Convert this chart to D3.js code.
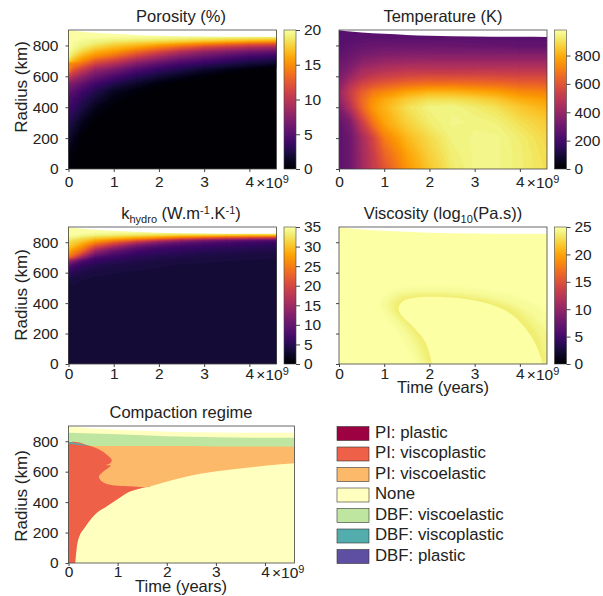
<!DOCTYPE html>
<html>
<head>
<meta charset="utf-8">
<script src="https://cdn.jsdelivr.net/npm/d3@7"></script>
<style>
  html, body { margin: 0; background: #fff; }
  svg text { font-family: "Liberation Sans", sans-serif; fill: #222; }
  .axis path { display: none; }
  .axis line { stroke: #444; }
  .axis text { font-size: 15.5px; fill: #222; }
</style>
</head>
<body>
<svg id="fig" width="603" height="596"></svg>
<script>
// time in 1e9 years, radius in km
var surfaceT = [0, 0.25, 0.5, 1, 1.5, 2, 3, 4, 4.6];
var surfaceR = [898, 890, 884, 875, 868, 863, 858, 856, 855];

var porosityT = [0, 0.12, 0.3, 0.6, 1, 1.5, 2, 2.5, 3, 3.5, 4, 4.6];
var porosityR = [0, 100, 200, 300, 400, 450, 500, 550, 600, 640, 660, 680, 700, 730, 760, 790, 810, 830, 850, 870, 900];
var porosityV = [
  0.4, 0, 0, 0, 0, 0, 0, 0, 0, 0, 0, 0,
  1, 0.3, 0, 0, 0, 0, 0, 0, 0, 0, 0, 0,
  1.8, 1, 0.2, 0, 0, 0, 0, 0, 0, 0, 0, 0,
  2.8, 2, 1, 0.1, 0, 0, 0, 0, 0, 0, 0, 0,
  4, 3.4, 2.4, 1, 0.2, 0, 0, 0, 0, 0, 0, 0,
  4.6, 4, 3, 1.8, 0.6, 0, 0, 0, 0, 0, 0, 0,
  5.6, 5, 4, 2.6, 1.2, 0.4, 0, 0, 0, 0, 0, 0,
  7.2, 6.6, 5.5, 4, 2.6, 1.4, 0.5, 0, 0, 0, 0, 0,
  11, 9.5, 8, 6, 4.6, 3, 1.9, 1.1, 0.4, 0, 0, 0,
  14, 12, 10.5, 8, 6.5, 4.6, 3.3, 2.4, 1.5, 0.9, 0.3, 0,
  15, 13.5, 12, 9.5, 8, 5.7, 4.3, 3.2, 2.4, 1.7, 1.1, 0.4,
  14.5, 14.5, 13.5, 11, 9.5, 7, 5.3, 4.1, 3.3, 2.5, 1.9, 1.4,
  18, 16.5, 15, 12.5, 11, 8.5, 6.6, 5.2, 4.3, 3.4, 2.7, 2.2,
  19.5, 18, 16.5, 15, 13.5, 11, 9, 7.2, 6, 5, 4.2, 3.6,
  19.8, 19, 18, 16.5, 15.5, 13.5, 11.5, 9.5, 8, 7, 6.2, 5.6,
  20, 19.6, 19, 18, 17, 16, 14.5, 13, 11.5, 10.5, 9.5, 8.8,
  20, 19.7, 19.4, 18.8, 18, 17.3, 16.5, 15.5, 14.5, 13.5, 12.5, 12,
  20, 19.8, 19.6, 19.3, 19, 18.7, 18.4, 18, 17.5, 17, 16.5, 16,
  20, 20, 19.9, 19.8, 19.7, 19.6, 19.5, 19.4, 19.2, 19, 18.8, 18.7,
  20, 20, 20, 20, 20, 20, 20, 20, 20, 20, 20, 20,
  20, 20, 20, 20, 20, 20, 20, 20, 20, 20, 20, 20
];

var temperatureT = [0, 0.25, 0.5, 0.75, 1, 1.5, 2, 2.5, 3, 3.5, 4, 4.6];
var temperatureR = [0, 100, 200, 300, 400, 450, 500, 550, 600, 650, 700, 750, 800, 850, 900];
var temperatureV = [
  260, 300, 420, 510, 600, 750, 850, 920, 950, 950, 930, 900,
  260, 300, 420, 520, 640, 780, 870, 930, 950, 950, 930, 895,
  260, 300, 430, 550, 700, 820, 890, 940, 950, 950, 925, 885,
  270, 340, 520, 680, 780, 870, 925, 950, 945, 935, 900, 860,
  340, 470, 640, 760, 810, 900, 940, 945, 925, 900, 850, 810,
  380, 510, 650, 740, 790, 860, 900, 900, 880, 850, 800, 770,
  395, 520, 620, 690, 720, 780, 810, 810, 790, 770, 730, 710,
  360, 470, 550, 590, 620, 660, 680, 680, 670, 660, 640, 630,
  330, 400, 470, 510, 530, 560, 570, 570, 570, 565, 560, 560,
  310, 350, 420, 440, 460, 480, 480, 480, 480, 480, 480, 480,
  285, 315, 360, 380, 395, 405, 410, 410, 410, 410, 410, 410,
  265, 285, 315, 325, 335, 340, 340, 340, 340, 340, 340, 340,
  250, 265, 280, 285, 290, 290, 290, 285, 280, 275, 272, 270,
  240, 250, 255, 258, 258, 255, 255, 255, 255, 255, 255, 255,
  235, 245, 250, 250, 250, 250, 250, 250, 250, 250, 250, 250
];

var hydroT = [0, 0.12, 0.3, 0.6, 1, 1.5, 2, 2.5, 3, 3.5, 4, 4.6];
var hydroR = [0, 500, 560, 600, 640, 660, 680, 700, 720, 740, 760, 780, 800, 815, 830, 850, 870, 900];
var hydroV = [
  3.2, 3.2, 3.2, 3.2, 3.2, 3.2, 3.2, 3.2, 3.2, 3.2, 3.2, 3.2,
  3.4, 3.3, 3.3, 3.2, 3.2, 3.2, 3.2, 3.2, 3.2, 3.2, 3.2, 3.2,
  4.2, 3.9, 3.6, 3.4, 3.3, 3.3, 3.2, 3.2, 3.2, 3.2, 3.2, 3.2,
  6, 5, 4.4, 3.8, 3.6, 3.4, 3.3, 3.3, 3.2, 3.2, 3.2, 3.2,
  9, 7, 5.6, 4.6, 4.2, 3.8, 3.6, 3.4, 3.3, 3.3, 3.2, 3.2,
  12, 9, 7, 5.4, 4.7, 4.1, 3.8, 3.6, 3.5, 3.4, 3.3, 3.3,
  15, 13, 9, 6.2, 5.3, 4.6, 4.2, 3.9, 3.7, 3.6, 3.5, 3.4,
  23, 20, 14, 8, 6.5, 5.2, 4.6, 4.3, 4, 3.9, 3.7, 3.6,
  26, 24, 19, 11, 8, 6.2, 5.3, 4.8, 4.4, 4.2, 4, 3.9,
  28, 26, 23, 14, 10, 7.4, 6.1, 5.5, 5, 4.7, 4.5, 4.3,
  30, 28, 25.5, 18, 13, 9, 7.2, 6.4, 5.8, 5.3, 5, 4.8,
  31, 30, 27.5, 22, 17.5, 12, 9.2, 7.8, 7, 6.3, 5.8, 5.5,
  32, 31, 29.5, 26, 22, 17, 13, 10.5, 9, 8, 7.2, 6.8,
  33, 32, 31, 28.5, 26, 22.5, 18.5, 15, 12.5, 11, 10, 9.5,
  34, 33.5, 32.5, 31, 30, 28, 26, 23.5, 21.5, 20, 19, 18,
  35, 35, 34.5, 34, 33.5, 33, 32.5, 32, 32, 31.5, 31, 31,
  35, 35, 35, 35, 35, 35, 35, 35, 35, 35, 35, 35,
  35, 35, 35, 35, 35, 35, 35, 35, 35, 35, 35, 35
];

// viscosity outlines, [time, radius], outermost level first
var viscosityLevels = [24.65, 24.2, 23.7];
var viscosityOuter = [[1.73, 0], [1.36, 188], [0.99, 340], [0.91, 404], [1.2, 480], [2.1, 505], [3.2, 485], [4.17, 410], [4.7, 290], [4.7, 0]];
var viscosityMid1 = [[1.85, 0], [1.6, 170], [1.32, 280], [1.12, 350], [1.08, 400], [1.3, 455], [2.1, 470], [3.2, 445], [4, 370], [4.5, 250], [4.7, 150], [4.7, 0]];
var viscosityMid2 = [[1.96, 0], [1.76, 160], [1.5, 260], [1.25, 340], [1.2, 385], [1.37, 435], [1.9, 455], [2.5, 452], [3.2, 425], [3.9, 350], [4.36, 210], [4.55, 50], [4.56, 0]];
var viscosityCore = [[2.06, 0], [1.91, 145], [1.65, 242], [1.36, 329], [1.32, 372], [1.43, 415], [1.73, 437], [2.47, 437], [3.2, 404], [3.8, 329], [4.24, 188], [4.47, 37], [4.48, 0]];

// compaction regime outlines
var regimeNames = ["PI: plastic", "PI: viscoplastic", "PI: viscoelastic", "None", "DBF: viscoelastic", "DBF: viscoplastic", "DBF: plastic"];
var regimeColors = ["#9e0142", "#ee6048", "#fdb96a", "#ffffbf", "#bfe6a0", "#53adad", "#5e4fa2"];
var noneTop = [[0.136, 0], [0.156, 69], [0.183, 134], [0.237, 189], [0.305, 221], [0.44, 282], [0.577, 330], [0.78, 373], [0.98, 416], [1.25, 470], [1.66, 503], [2.14, 547], [2.68, 586], [3.36, 616], [4.04, 640], [4.6, 655]];
var orangeTop = [[0, 785], [0.44, 768], [1, 768], [2, 768], [3, 766], [4.6, 764]];
var greenTop = [[0, 856], [1, 845], [2, 833], [3, 826], [4.6, 822]];
var redEdge = [[0, 785], [0.44, 768], [0.64, 742], [0.81, 703], [0.88, 677], [0.85, 655], [0.77, 644], [0.86, 640], [0.71, 601], [0.62, 568], [0.68, 536], [0.85, 514], [1.32, 503], [1.63, 499]];
var tealEdge = [[0, 796], [0.2, 785], [0.44, 768], [0.2, 775], [0, 785]];

var xTicks = [0, 1, 2, 3, 4];
var yTicks = [0, 200, 400, 600, 800];

var tMax = 4.6, rMax = 900;
var svg = d3.select("#fig");
var defs = svg.append("defs");
var inferno = d3.interpolateInferno;

defs.append("filter").attr("id", "soft").append("feGaussianBlur").attr("stdDeviation", 2);

function makePanel(box, o) {
  var x = d3.scaleLinear().domain([0, tMax]).range([box.x, box.x + box.w]);
  var y = d3.scaleLinear().domain([0, rMax]).range([box.y + box.h, box.y]);
  var id = "clip" + o.id;
  defs.append("clipPath").attr("id", id).append("rect")
    .attr("x", box.x).attr("y", box.y).attr("width", box.w).attr("height", box.h);
  var g = svg.append("g");
  var plot = g.append("g").attr("clip-path", "url(#" + id + ")");

  var t = g.append("text").attr("x", o.titleX).attr("y", box.y - 8)
    .attr("text-anchor", "middle").style("font-size", "16.5px");
  o.title(t);
  return { x: x, y: y, g: g, plot: plot, box: box };
}

function finishPanel(p, o) {
  var box = p.box;
  // white above the surface
  p.plot.append("path").attr("fill", "#fff")
    .attr("d", d3.area().x(function (d) { return p.x(d[0]); })
      .y0(box.y).y1(function (d) { return p.y(d[1]); })
      .curve(d3.curveMonotoneX)(d3.zip(surfaceT, surfaceR)));

  p.g.append("rect").attr("x", box.x).attr("y", box.y).attr("width", box.w).attr("height", box.h)
    .attr("fill", "none").attr("stroke", "#444").attr("stroke-width", 0.8);

  p.g.append("g").attr("class", "axis").attr("transform", "translate(0," + (box.y + box.h) + ")")
    .call(d3.axisBottom(p.x).tickValues(xTicks).tickSize(3).tickPadding(o.xPad).tickFormat(d3.format("d")));
  p.g.append("g").attr("class", "axis").attr("transform", "translate(" + box.x + ",0)")
    .call(d3.axisLeft(p.y).tickValues(yTicks).tickSize(3).tickPadding(7)
      .tickFormat(o.yLabels ? d3.format("d") : ""));

  // exponent beside the last tick
  var exp = p.g.append("text").attr("x", p.x(4) + 7).attr("y", box.y + box.h + 15 + o.xPad)
    .style("font-size", "15.5px").text("×10");
  exp.append("tspan").attr("dy", -5).style("font-size", "11px").text("9");

  if (o.yLabels) {
    p.g.append("text").attr("transform", "translate(" + (box.x - 42) + "," + o.yLabelY + ") rotate(-90)")
      .attr("text-anchor", "middle").style("font-size", "17px").text("Radius (km)");
  }
  if (o.xLabel) {
    p.g.append("text").attr("x", o.titleX).attr("y", box.y + box.h + 29)
      .attr("text-anchor", "middle").style("font-size", "16.5px").text("Time (years)");
  }
}

function colorbar(box, vMax, ticks, id) {
  var grad = defs.append("linearGradient").attr("id", id)
    .attr("x1", 0).attr("y1", 1).attr("x2", 0).attr("y2", 0);
  d3.range(0, 1.0001, 0.05).forEach(function (f) {
    grad.append("stop").attr("offset", f).attr("stop-color", inferno(f));
  });
  svg.append("rect").attr("x", box.x).attr("y", box.y).attr("width", box.w).attr("height", box.h)
    .attr("fill", "url(#" + id + ")").attr("stroke", "#444").attr("stroke-width", 0.6);
  var s = d3.scaleLinear().domain([0, vMax]).range([box.y + box.h, box.y]);
  svg.append("g").attr("class", "axis").attr("transform", "translate(" + (box.x + box.w) + ",0)")
    .call(d3.axisRight(s).tickValues(ticks).tickSize(4).tickPadding(4).tickFormat(d3.format("d")));
}

// smooth field: stacked contour bands of a value grid
function heat(p, ts, rs, vals, vMax) {
  var nx = ts.length, ny = rs.length;
  var ix = d3.scaleLinear().domain(ts.map(function (d, i) { return i + 0.5; })).range(ts).clamp(true);
  var iy = d3.scaleLinear().domain(rs.map(function (d, i) { return i + 0.5; })).range(rs).clamp(true);
  var path = d3.geoPath(d3.geoTransform({
    point: function (a, b) { this.stream.point(p.x(ix(a)), p.y(iy(b))); }
  }));
  var levels = d3.range(0, vMax, vMax / 90);
  var bands = d3.contours().size([nx, ny]).thresholds(levels)(vals);
  p.plot.selectAll(".band").data(bands).enter().append("path")
    .attr("class", "band")
    .attr("d", path)
    .attr("fill", function (d) { return inferno(Math.min(1, d.value / vMax + 0.5 / 90)); })
    .attr("stroke", function (d) { return inferno(Math.min(1, d.value / vMax + 0.5 / 90)); })
    .attr("stroke-width", 0.3);
}

var row1 = 30, row2 = 227, hh = 139, h2 = 137;
var col1 = 68.5, col2 = 339, ww = 208;

// Porosity
var p1 = makePanel({ x: col1, y: row1, w: ww, h: hh }, { id: 1, titleX: 181, title: function (t) { t.text("Porosity (%)"); } });
heat(p1, porosityT, porosityR, porosityV, 20);
finishPanel(p1, { yLabels: true, yLabelY: 87, xPad: 4 });
colorbar({ x: 284, y: row1, w: 12, h: hh }, 20, [0, 5, 10, 15, 20], "cb1");

// Temperature
var p2 = makePanel({ x: col2, y: row1, w: ww, h: hh }, { id: 2, titleX: 443, title: function (t) { t.text("Temperature (K)"); } });
heat(p2, temperatureT, temperatureR, temperatureV, 980);
finishPanel(p2, { yLabels: false, xPad: 4 });
colorbar({ x: 554.5, y: row1, w: 12, h: hh }, 980, [0, 200, 400, 600, 800], "cb2");

// k hydro
var p3 = makePanel({ x: col1, y: row2, w: ww, h: h2 }, { id: 3, titleX: 181, title: function (t) {
  t.text("k");
  t.append("tspan").attr("dy", 4).style("font-size", "11px").text("hydro");
  t.append("tspan").attr("dy", -4).text(" (W.m");
  t.append("tspan").attr("dy", -5).style("font-size", "11px").text("-1");
  t.append("tspan").attr("dy", 5).text(".K");
  t.append("tspan").attr("dy", -5).style("font-size", "11px").text("-1");
  t.append("tspan").attr("dy", 5).text(")");
} });
heat(p3, hydroT, hydroR, hydroV, 35);
finishPanel(p3, { yLabels: true, yLabelY: 295, xPad: 1 });
colorbar({ x: 284, y: row2, w: 12, h: h2 }, 35, [0, 5, 10, 15, 20, 25, 30, 35], "cb3");

// Viscosity
var p4 = makePanel({ x: col2, y: row2, w: ww, h: h2 }, { id: 4, titleX: 443, title: function (t) {
  t.text("Viscosity (log");
  t.append("tspan").attr("dy", 4).style("font-size", "11px").text("10");
  t.append("tspan").attr("dy", -4).text("(Pa.s))");
} });
var viscScale = d3.scaleSequential(inferno).domain([0, 25]);
p4.plot.append("rect").attr("x", col2).attr("y", row2).attr("width", ww).attr("height", h2).attr("fill", viscScale(25));
var outline = d3.line().x(function (d) { return p4.x(d[0]); }).y(function (d) { return p4.y(d[1]); }).curve(d3.curveCatmullRom);
var ring = p4.plot.append("g").attr("filter", "url(#soft)");
[viscosityOuter, viscosityMid1, viscosityMid2].forEach(function (pts, i) {
  ring.append("path").attr("d", outline(pts)).attr("fill", viscScale(viscosityLevels[i]));
});
p4.plot.append("path").attr("d", outline(viscosityCore)).attr("fill", viscScale(25));
finishPanel(p4, { yLabels: false, xLabel: true, titleX: 443, xPad: 1 });
colorbar({ x: 554.5, y: row2, w: 12, h: h2 }, 25, [0, 5, 10, 15, 20, 25], "cb4");

// Compaction regime
var p5 = makePanel({ x: col1, y: 426, w: 226, h: 137 }, { id: 5, titleX: 181, title: function (t) { t.text("Compaction regime"); } });
var px = function (d) { return p5.x(d[0]); }, py = function (d) { return p5.y(d[1]); };
var base = p5.y(0);
p5.plot.append("rect").attr("x", col1).attr("y", 426).attr("width", 226).attr("height", 137).attr("fill", regimeColors[3]);
p5.plot.append("path").attr("fill", regimeColors[4]).attr("d", d3.area().x(px).y1(py).y0(base).curve(d3.curveMonotoneX)(greenTop));
p5.plot.append("path").attr("fill", regimeColors[2]).attr("d", d3.area().x(px).y1(py).y0(base).curve(d3.curveMonotoneX)(orangeTop));
p5.plot.append("path").attr("fill", regimeColors[3]).attr("d", d3.area().x(px).y1(py).y0(base).curve(d3.curveMonotoneX)(noneTop));
p5.plot.append("path").attr("fill", regimeColors[1])
  .attr("d", d3.line().x(px).y(py).curve(d3.curveCatmullRom)([[0, 0]].concat(redEdge, noneTop.slice(0, 11).reverse())) + "Z");
p5.plot.append("path").attr("fill", regimeColors[5]).attr("d", d3.line().x(px).y(py)(tealEdge) + "Z");
finishPanel(p5, { yLabels: true, yLabelY: 496, xLabel: true, titleX: 181, xPad: 0 });

// legend
var legendY = d3.scalePoint().domain(regimeNames).range([433.5, 556.5]);
var legend = svg.append("g").selectAll("g").data(regimeNames).enter().append("g")
  .attr("transform", function (d) { return "translate(337," + legendY(d) + ")"; });
legend.append("rect").attr("x", 0).attr("y", -7).attr("width", 32).attr("height", 14)
  .attr("fill", function (d, i) { return regimeColors[i]; })
  .attr("stroke", "#333").attr("stroke-width", 0.6);
legend.append("text").attr("x", 38).attr("y", 4).style("font-size", "16.8px").text(function (d) { return d; });
</script>
</body>
</html>
